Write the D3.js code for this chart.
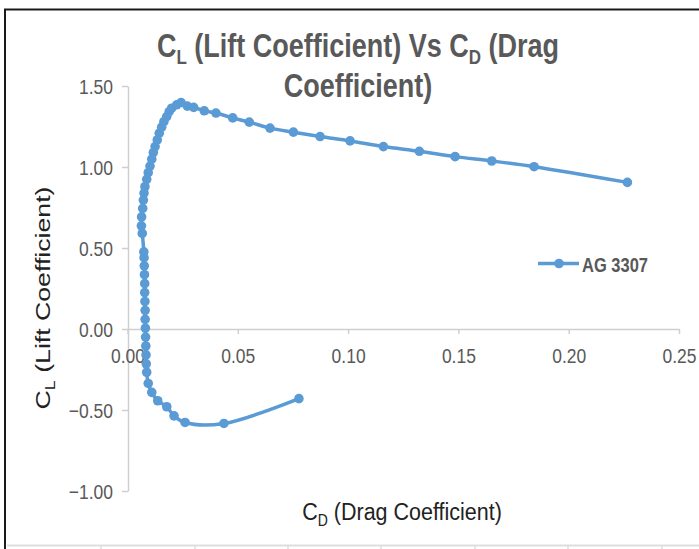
<!DOCTYPE html>
<html><head><meta charset="utf-8">
<script src="https://cdn.jsdelivr.net/npm/d3@7"></script>
<style>html,body{margin:0;padding:0;background:#fff;}svg{display:block;}</style>
</head><body>
<svg id="chart" width="699" height="549"></svg>
<script>
// Drag coefficient (x) and lift coefficient (y), AG 3307 polar
const cd = [0.0777,0.0437,0.0261,0.0211,0.0178,0.0137,0.0110,0.0094,0.0087,0.0085,0.0084,0.0083,0.0082,0.0081,0.0080,0.0080,0.0079,0.0078,0.0078,0.0077,0.0076,0.0075,0.0074,0.0067,0.0063,0.0064,0.0069,0.0072,0.0075,0.0079,0.0087,0.0094,0.0102,0.0110,0.0117,0.0125,0.0135,0.0144,0.0155,0.0165,0.0178,0.0189,0.0200,0.0223,0.0243,0.0271,0.0300,0.0348,0.0401,0.0477,0.0552,0.0646,0.0752,0.0873,0.1009,0.1160,0.1323,0.1485,0.1651,0.1843,0.2266];
const cl = [-0.430,-0.583,-0.577,-0.536,-0.480,-0.443,-0.391,-0.336,-0.267,-0.215,-0.160,-0.105,-0.050,0.005,0.060,0.115,0.170,0.225,0.280,0.335,0.390,0.440,0.476,0.590,0.637,0.692,0.744,0.796,0.839,0.878,0.924,0.965,1.006,1.048,1.089,1.126,1.167,1.209,1.246,1.280,1.311,1.342,1.363,1.384,1.398,1.376,1.368,1.347,1.333,1.303,1.277,1.240,1.215,1.188,1.161,1.126,1.097,1.064,1.037,1.002,0.905];
const xTicks = [0, 0.05, 0.10, 0.15, 0.20, 0.25];
const yTicks = [-1.0, -0.5, 0, 0.5, 1.0, 1.5];
const seriesName = "AG 3307";

const svg = d3.select("#chart");
const blue = "#5b9bd5", grey = "#595959", axisCol = "#cfcfcf";
const F = "'Liberation Sans', Arial, sans-serif";

// spreadsheet frame
svg.append("line").attr("x1",4).attr("x2",699).attr("y1",9.5).attr("y2",9.5).attr("stroke","#1a1a1a").attr("stroke-width",2);
svg.append("line").attr("x1",5).attr("x2",5).attr("y1",9).attr("y2",549).attr("stroke","#1a1a1a").attr("stroke-width",2);
svg.append("line").attr("x1",7).attr("x2",699).attr("y1",545.5).attr("y2",545.5).attr("stroke","#dedede").attr("stroke-width",2);
[101,195,288,381,475,568,662].forEach(xx=>{
  svg.append("line").attr("x1",xx).attr("x2",xx).attr("y1",545).attr("y2",549).attr("stroke","#dedede").attr("stroke-width",1.5);
});

const x = d3.scaleLinear().domain([0,0.25]).range([127.5,679]);
const y = d3.scaleLinear().domain([-1,1.5]).range([491,86]);

// y axis
const gy = svg.append("g").attr("transform","translate(128,0)")
  .call(d3.axisLeft(y).tickValues(yTicks).tickFormat(d3.format(".2f")).tickSize(6).tickSizeOuter(0));
gy.select(".domain").attr("stroke",axisCol).attr("stroke-width",1.5);
gy.selectAll(".tick line").attr("stroke",axisCol).attr("stroke-width",1.5);
gy.selectAll(".tick text").attr("x",0).attr("dy",null).attr("y",0)
  .attr("transform","translate(-15,7) scale(1,1.15)")
  .attr("fill",grey).attr("font-family",F).attr("font-size",17.5).attr("text-anchor","end");

// x axis
const gx = svg.append("g").attr("transform",`translate(0,${y(0)})`)
  .call(d3.axisBottom(x).tickValues(xTicks).tickFormat(d3.format(".2f")).tickSize(5).tickSizeOuter(0));
gx.select(".domain").attr("stroke",axisCol).attr("stroke-width",1.5);
gx.selectAll(".tick line").attr("stroke",axisCol).attr("stroke-width",1.5);
gx.selectAll(".tick text").attr("y",0).attr("dy",null)
  .attr("transform","translate(0,33.5) scale(1,1.15)")
  .attr("fill",grey).attr("font-family",F).attr("font-size",17.5).attr("text-anchor","middle");

// title
const t1 = svg.append("g").attr("transform","translate(358,57) scale(1,1.2)")
  .append("text").attr("text-anchor","middle").attr("font-family",F).attr("font-weight","bold")
  .attr("font-size",27).attr("fill",grey);
t1.append("tspan").text("C");
t1.append("tspan").attr("font-size",17).attr("dy",6).text("L");
t1.append("tspan").attr("dy",-6).text(" (Lift Coefficient) Vs C");
t1.append("tspan").attr("font-size",17).attr("dy",6).text("D");
t1.append("tspan").attr("dy",-6).text(" (Drag");
svg.append("g").attr("transform","translate(358,97) scale(1,1.2)")
  .append("text").attr("text-anchor","middle").attr("font-family",F).attr("font-weight","bold")
  .attr("font-size",27).attr("fill",grey).text("Coefficient)");

// axis titles
const xt = svg.append("g").attr("transform","translate(402,520) scale(1,1.15)")
  .append("text").attr("text-anchor","middle").attr("font-family",F).attr("font-size",21.5).attr("fill","#222");
xt.append("tspan").text("C");
xt.append("tspan").attr("font-size",14).attr("dy",5).text("D");
xt.append("tspan").attr("dy",-5).text(" (Drag Coefficient)");

const yt = svg.append("g").attr("transform","translate(50,298) scale(1,1.27) rotate(-90)")
  .append("text").attr("text-anchor","middle").attr("font-family",F).attr("font-size",21).attr("fill","#222");
yt.append("tspan").text("C");
yt.append("tspan").attr("font-size",14).attr("dy",5).text("L");
yt.append("tspan").attr("dy",-5).text(" (Lift Coefficient)");

// series
const pts = cd.map((d,i)=>[d, cl[i]]);
const line = d3.line().x(d=>x(d[0])).y(d=>y(d[1])).curve(d3.curveCatmullRom.alpha(0.5));
svg.append("path").datum(pts).attr("d",line).attr("fill","none").attr("stroke",blue).attr("stroke-width",3.5);
svg.append("g").selectAll("circle").data(pts).join("circle")
  .attr("cx",d=>x(d[0])).attr("cy",d=>y(d[1])).attr("r",4.8).attr("fill",blue);

// legend
svg.append("line").attr("x1",538).attr("x2",579).attr("y1",263.5).attr("y2",263.5).attr("stroke",blue).attr("stroke-width",3.5);
svg.append("circle").attr("cx",559).attr("cy",263.5).attr("r",4.8).attr("fill",blue);
svg.append("g").attr("transform","translate(582,271.5) scale(1,1.25)")
  .append("text").attr("font-family",F).attr("font-weight","bold").attr("font-size",16.5).attr("fill",grey).text(seriesName);
</script>
</body></html>
